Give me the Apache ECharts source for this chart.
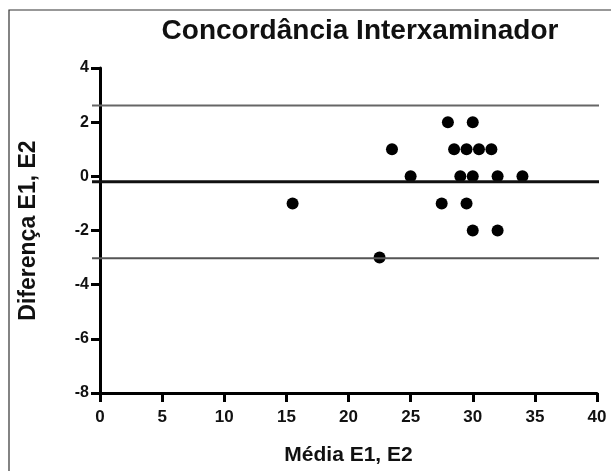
<!DOCTYPE html>
<html><head><meta charset="utf-8">
<script src="https://cdn.jsdelivr.net/npm/echarts@6/dist/echarts.min.js"></script>
<style>html,body{margin:0;padding:0;background:#fff}#c{width:611px;height:471px}</style>
</head><body><div id="c"></div>
<script>
var xTicks = [0, 5, 10, 15, 20, 25, 30, 35, 40];
var yTicks = [-8, -6, -4, -2, 0, 2, 4];
var pointsX = [28, 30, 23.5, 28.5, 29.5, 30.5, 31.5, 25, 29, 30, 32, 34, 15.5, 27.5, 29.5, 30, 32, 22.5];
var pointsY = [2, 2, 1, 1, 1, 1, 1, 0, 0, 0, 0, 0, -1, -1, -1, -2, -2, -3];
var upperLimit = 2.62;
var meanDiff = -0.17;
var lowerLimit = -2.98;

var pts = pointsX.map(function (x, i) { return [x, pointsY[i]]; });
var F = 'Liberation Sans, Arial, sans-serif';
var chart = echarts.init(document.getElementById('c'));
chart.setOption({
  animation: false,
  backgroundColor: '#fff',
  title: {
    text: 'Concordância Interxaminador', left: 355, top: 12, textAlign: 'center',
    textStyle: { fontFamily: F, fontSize: 28, fontWeight: 'bold', color: '#111' }
  },
  graphic: [
    { type: 'polyline', shape: { points: [[9, 480], [9, 10], [620, 10]] }, style: { stroke: '#333', lineWidth: 1.2, fill: null } }
  ],
  grid: [
    { left: 100, right: 14, top: 68, bottom: 76 },
    { left: 92, right: 12, top: 68, bottom: 76 }
  ],
  xAxis: [
    {
      gridIndex: 0, type: 'value', min: xTicks[0], max: xTicks[xTicks.length - 1], interval: 5,
      name: 'Média E1, E2', nameLocation: 'middle', nameGap: 52,
      nameTextStyle: { fontFamily: F, fontSize: 21, fontWeight: 'bold', color: '#111' },
      axisLine: { onZero: false, lineStyle: { color: '#000', width: 3 } },
      axisTick: { show: true, length: 9, lineStyle: { color: '#000', width: 3 } },
      axisLabel: { fontFamily: F, fontSize: 17, fontWeight: 'bold', color: '#111', margin: 16 },
      splitLine: { show: false }
    },
    { gridIndex: 1, type: 'value', min: 0, max: 1, show: false }
  ],
  yAxis: [
    {
      gridIndex: 0, type: 'value', min: yTicks[0], max: yTicks[yTicks.length - 1], interval: 2,
      name: 'Diferença E1, E2', nameLocation: 'middle', nameGap: 60,
      nameTextStyle: { fontFamily: F, fontSize: 23, fontWeight: 'bold', color: '#111' },
      axisLine: { onZero: false, lineStyle: { color: '#000', width: 3 } },
      axisTick: { show: true, length: 9, lineStyle: { color: '#000', width: 3 } },
      axisLabel: { fontFamily: F, fontSize: 16, fontWeight: 'bold', color: '#111', margin: 11 },
      splitLine: { show: false }
    },
    { gridIndex: 1, type: 'value', min: yTicks[0], max: yTicks[yTicks.length - 1], show: false }
  ],
  series: [
    { type: 'line', xAxisIndex: 1, yAxisIndex: 1, data: [[0, upperLimit], [1, upperLimit]], symbol: 'none', lineStyle: { color: '#666', width: 2 }, silent: true },
    { type: 'line', xAxisIndex: 1, yAxisIndex: 1, data: [[0, meanDiff], [1, meanDiff]], symbol: 'none', lineStyle: { color: '#111', width: 3 }, silent: true },
    { type: 'line', xAxisIndex: 1, yAxisIndex: 1, data: [[0, lowerLimit], [1, lowerLimit]], symbol: 'none', lineStyle: { color: '#555', width: 2 }, silent: true },
    { type: 'scatter', xAxisIndex: 0, yAxisIndex: 0, data: pts, symbolSize: 12, itemStyle: { color: '#000', opacity: 1 } }
  ]
});
</script></body></html>
